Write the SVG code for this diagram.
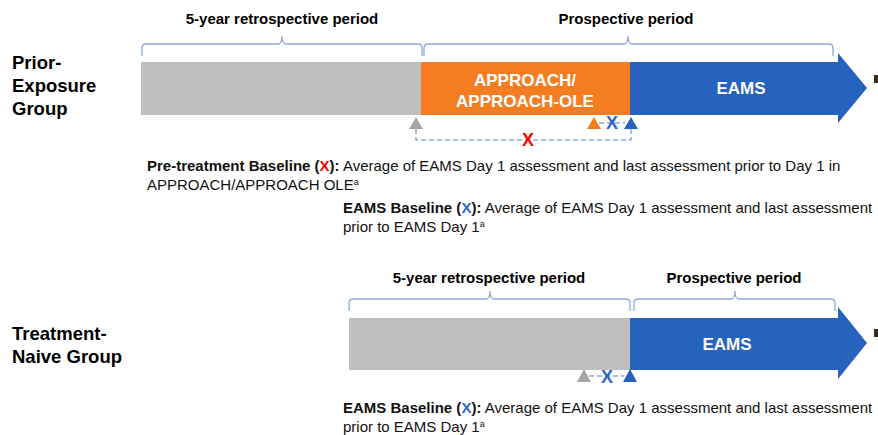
<svg xmlns="http://www.w3.org/2000/svg" width="878" height="435" viewBox="0 0 878 435">
  <style>
    .lbl { font-family: "Liberation Sans", Arial, sans-serif; font-weight: bold; fill: #000; }
    .grp { font-size: 18.5px; }
    .per { font-size: 15px; text-anchor: middle; }
    .bar { font-family: "Liberation Sans", Arial, sans-serif; font-weight: bold; fill: #fff; font-size: 17px; text-anchor: middle; }
    .note { font-family: "Liberation Sans", Arial, sans-serif; font-size: 15px; fill: #111; }
    .note .b { font-weight: bold; }
    .sup { font-size: 9px; }
    .brace { fill: none; stroke: #8EA9DB; stroke-width: 1.3; }
    .dash { fill: none; stroke: #8EA9DB; stroke-width: 1.5; stroke-dasharray: 5 3; }
    .xr { font-family: "Liberation Sans", Arial, sans-serif; font-weight: bold; font-size: 18px; text-anchor: middle; }
  </style>
  <rect width="878" height="435" fill="#fff"/>

  <!-- Prior-exposure group -->
  <g id="prior-label">
    <text class="lbl grp" x="12" y="69">Prior-</text>
    <text class="lbl grp" x="12" y="92">Exposure</text>
    <text class="lbl grp" x="12" y="115">Group</text>
  </g>
  <g id="prior-periods">
    <text class="lbl per" x="282" y="24">5-year retrospective period</text>
    <path class="brace" d="M142,56 V48 Q142,44 146,44 H278 Q282,44 282,36 Q282,44 286,44 H418 Q422,44 422,48 V56"/>
    <text class="lbl per" x="626" y="24">Prospective period</text>
    <path class="brace" d="M424,56 V48 Q424,44 428,44 H624 Q628,44 628,36 Q628,44 632,44 H829 Q833,44 833,48 V56"/>
  </g>
  <g id="prior-retro">
    <rect x="141" y="62" width="280" height="53" fill="#BFBFBF"/>
  </g>
  <g id="prior-approach">
    <rect x="421" y="62" width="209" height="53" fill="#F47D21"/>
    <text class="bar" x="525" y="86">APPROACH/</text>
    <text class="bar" x="525" y="107">APPROACH-OLE</text>
  </g>
  <g id="prior-eams">
    <path d="M630,62 H838 V53 L867,88 L838,123 V115 H630 Z" fill="#2563BF"/>
    <text class="bar" x="741" y="94">EAMS</text>
  </g>
  <rect x="874" y="75" width="4" height="8" fill="#3a2a1a"/>

  <g id="connectors">
    <!-- prior-exposure baselines -->
    <path class="dash" d="M416,129 V140 H631 V129"/>
    <line class="dash" x1="599" y1="123" x2="625" y2="123"/>
    <!-- treatment-naive baseline -->
    <line class="dash" x1="589" y1="376" x2="624" y2="376"/>
  </g>

  <g id="prior-markers">
    <polygon points="416,117 409,129 423,129" fill="#A6A6A6"/>
    <polygon points="594,117 587,129 601,129" fill="#F47D21"/>
    <polygon points="631,117 624,129 638,129" fill="#2563BF"/>
    <text class="xr" x="528" y="146" fill="#FF0000">X</text>
    <text class="xr" x="612" y="129" fill="#2E64C6">X</text>
  </g>

  <g id="prior-notes">
    <text class="note" x="147" y="171"><tspan class="b">Pre-treatment Baseline (</tspan><tspan class="b" fill="#FF0000">X</tspan><tspan class="b">):</tspan> Average of EAMS Day 1 assessment and last assessment prior to Day 1 in</text>
    <text class="note" x="147" y="190">APPROACH/APPROACH OLE<tspan class="sup" dy="-5">a</tspan></text>
    <text class="note" x="343" y="213"><tspan class="b">EAMS Baseline (</tspan><tspan class="b" fill="#2E64C6">X</tspan><tspan class="b">):</tspan> Average of EAMS Day 1 assessment and last assessment</text>
    <text class="note" x="343" y="232">prior to EAMS Day 1<tspan class="sup" dy="-5">a</tspan></text>
  </g>

  <!-- Treatment-naive group -->
  <g id="naive-label">
    <text class="lbl grp" x="12" y="340">Treatment-</text>
    <text class="lbl grp" x="12" y="363">Naive Group</text>
  </g>
  <g id="naive-periods">
    <text class="lbl per" x="489" y="283">5-year retrospective period</text>
    <path class="brace" d="M349,311 V303 Q349,299 353,299 H486 Q490,299 490,291 Q490,299 494,299 H626 Q630,299 630,303 V311"/>
    <text class="lbl per" x="734" y="283">Prospective period</text>
    <path class="brace" d="M634,311 V303 Q634,299 638,299 H731 Q735,299 735,291 Q735,299 739,299 H831 Q835,299 835,303 V311"/>
  </g>
  <g id="naive-retro">
    <rect x="349" y="318" width="281" height="52" fill="#BFBFBF"/>
  </g>
  <g id="naive-eams">
    <path d="M630,318 H838 V307 L867,343 L838,379 V370 H630 Z" fill="#2563BF"/>
    <text class="bar" x="727" y="350">EAMS</text>
  </g>
  <rect x="874" y="329" width="4" height="8" fill="#3a2a1a"/>

  <g id="naive-markers">
    <polygon points="584,369 577,382 591,382" fill="#A6A6A6"/>
    <polygon points="630,369 623,382 637,382" fill="#2563BF"/>
    <text class="xr" x="607" y="383" fill="#2E64C6">X</text>
  </g>

  <g id="naive-notes">
    <text class="note" x="343" y="413"><tspan class="b">EAMS Baseline (</tspan><tspan class="b" fill="#2E64C6">X</tspan><tspan class="b">):</tspan> Average of EAMS Day 1 assessment and last assessment</text>
    <text class="note" x="343" y="432">prior to EAMS Day 1<tspan class="sup" dy="-5">a</tspan></text>
  </g>
</svg>
